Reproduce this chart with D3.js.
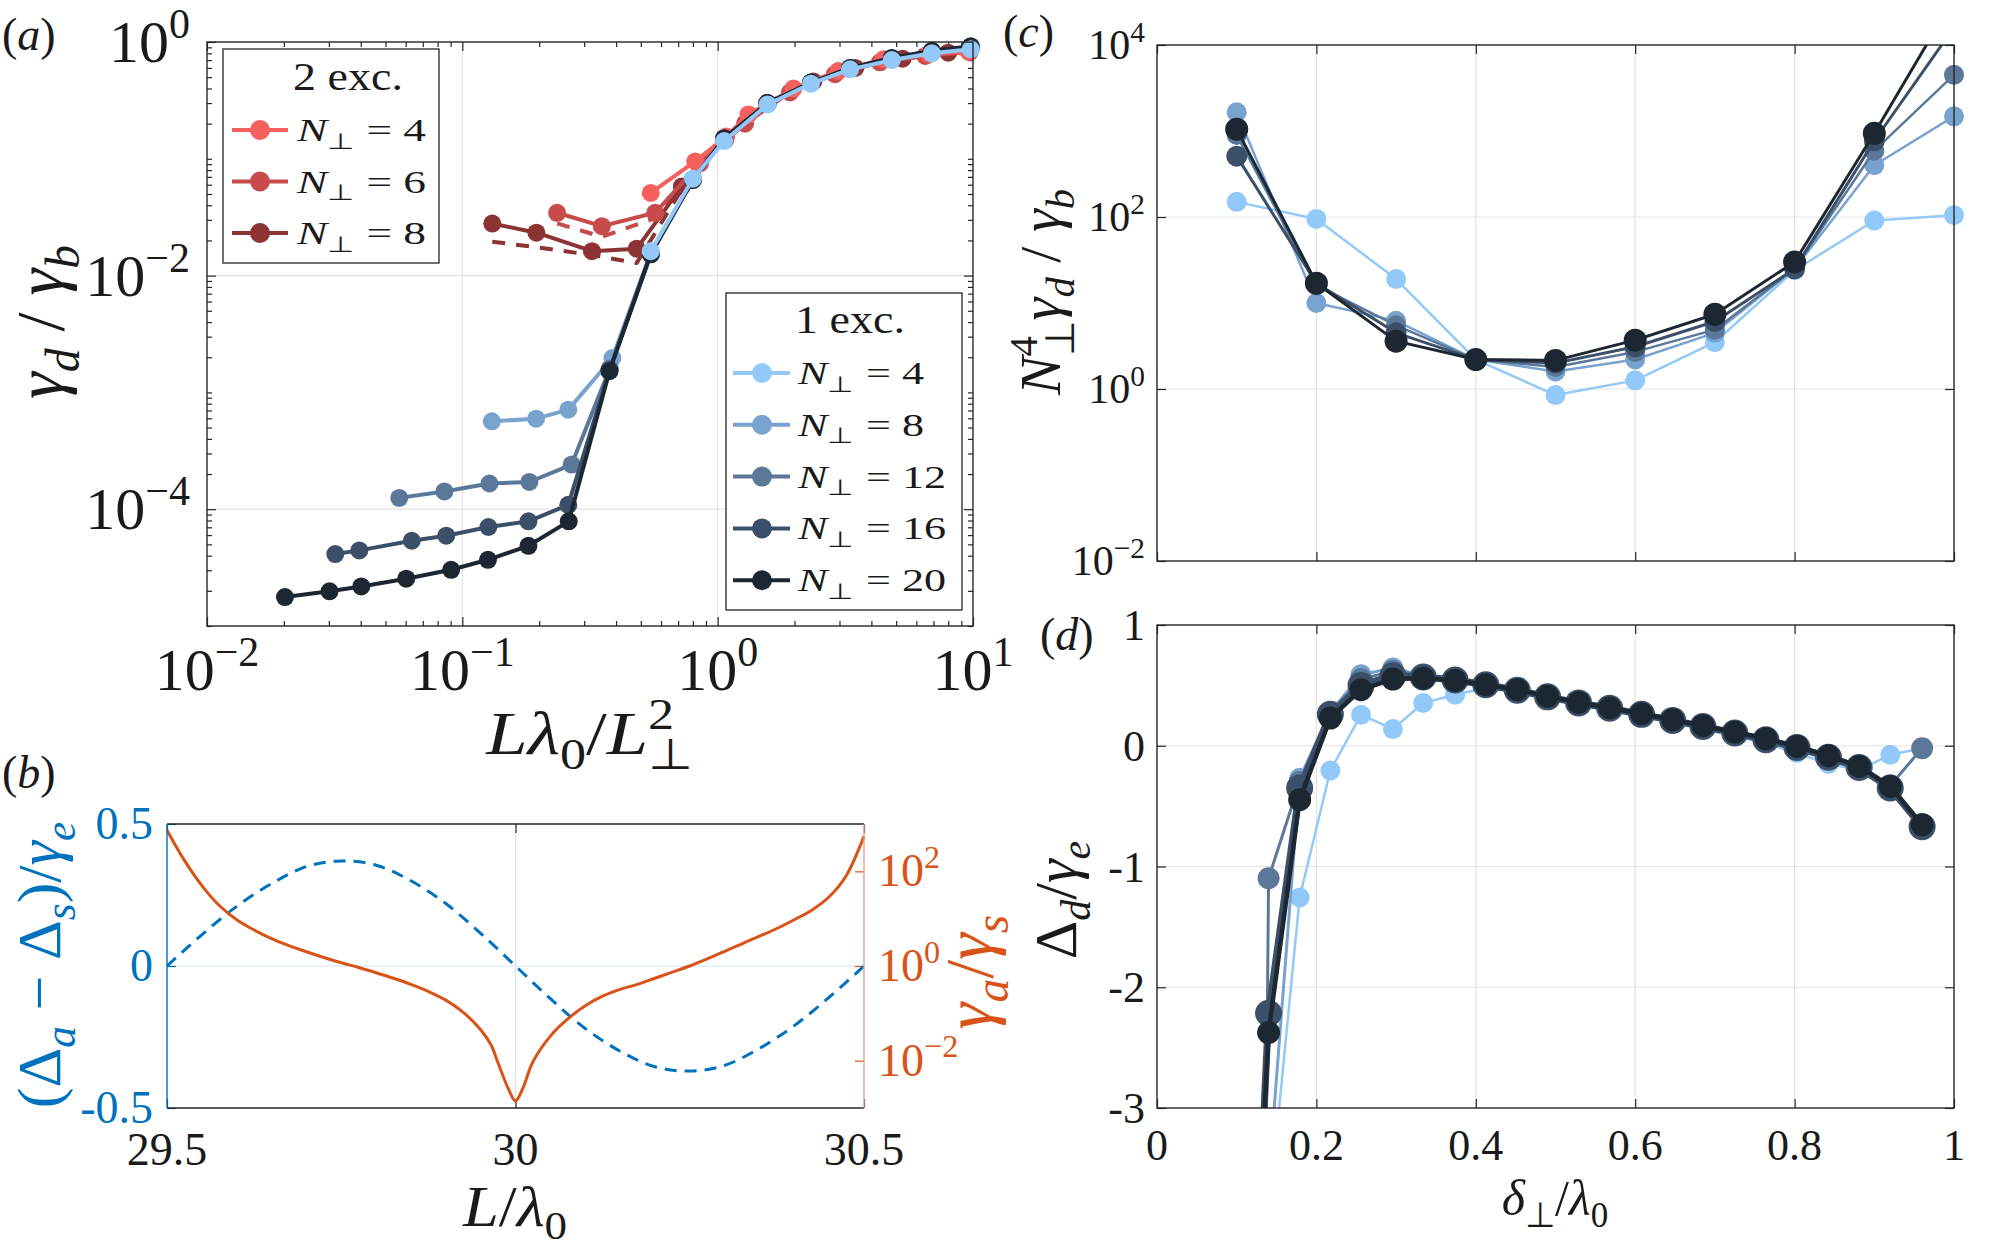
<!DOCTYPE html>
<html>
<head>
<meta charset="utf-8">
<script src="https://cdn.jsdelivr.net/npm/d3@7"></script>
<style>
  body { margin: 0; background: #fff; }
</style>
</head>
<body>
<script>
// ---------- data ----------

// (a) gamma_d / gamma_b vs L lambda0 / Lperp^2, one excitation
const a1HiX  = [0.547, 0.80, 1.06, 1.57, 2.32, 3.30, 4.81, 6.9, 9.8];
const a1N4x  = [];
const a1N4y  = [0.0162, 0.0675, 0.142, 0.292, 0.44, 0.583, 0.70, 0.80, 0.865];
const a1N8x  = [0.1305, 0.1945, 0.26, 0.387];
const a1N8y  = [5.65e-4, 5.96e-4, 7.12e-4, 1.97e-3, 0.0158, 0.067, 0.145, 0.295, 0.445, 0.59, 0.71, 0.82, 0.88];
const a1N12x = [0.0566, 0.0851, 0.1277, 0.183, 0.268, 0.378];
const a1N12y = [1.25e-4, 1.42e-4, 1.66e-4, 1.71e-4, 2.41e-4, 1.6e-3, 0.0155, 0.066, 0.147, 0.297, 0.447, 0.595, 0.72, 0.83, 0.89];
const a1N16x = [0.0318, 0.0395, 0.0634, 0.0865, 0.1265, 0.1815, 0.26, 0.377];
const a1N16y = [4.13e-5, 4.44e-5, 5.37e-5, 5.93e-5, 7.04e-5, 7.87e-5, 1.09e-4, 1.55e-3, 0.0153, 0.066, 0.149, 0.299, 0.449, 0.598, 0.725, 0.835, 0.90];
const a1N20x = [0.0202, 0.0302, 0.0402, 0.0603, 0.0904, 0.126, 0.1815, 0.261, 0.377];
const a1N20y = [1.77e-5, 1.98e-5, 2.18e-5, 2.54e-5, 3.03e-5, 3.69e-5, 4.86e-5, 7.87e-5, 1.52e-3, 0.0152, 0.066, 0.15, 0.30, 0.45, 0.60, 0.73, 0.84, 0.92];

// (a) two excitations (solid with markers, dashed without)
const a2N4x  = [0.547, 0.817, 1.08, 1.32, 1.98, 2.97, 4.46, 6.7, 9.6];
const a2N4y  = [0.051, 0.095, 0.155, 0.24, 0.40, 0.565, 0.71, 0.79, 0.83];
const a2N6x  = [0.235, 0.352, 0.569, 0.854, 1.28, 1.92, 2.88, 4.32, 6.5, 9.7];
const a2N6y  = [0.0345, 0.0265, 0.0345, 0.092, 0.20, 0.37, 0.53, 0.67, 0.76, 0.82];
const a2N8x  = [0.131, 0.195, 0.322, 0.482, 0.724, 1.07, 1.56, 2.37, 3.46, 5.3, 8.0];
const a2N8y  = [0.0279, 0.0233, 0.0162, 0.017, 0.058, 0.145, 0.30, 0.46, 0.60, 0.72, 0.81];
const a2N6dx = [0.235, 0.352, 0.569, 0.854];
const a2N6dy = [0.028, 0.0215, 0.031, 0.09];
const a2N8dx = [0.131, 0.195, 0.322, 0.482, 0.724];
const a2N8dy = [0.0195, 0.0175, 0.015, 0.0128, 0.055];

// (b) detuning difference (dashed) and decay ratio (solid) vs L/lambda0
const bL     = [29.5, 29.55, 29.6, 29.65, 29.7, 29.75, 29.8, 29.85, 29.9, 29.95, 30.0,
                30.05, 30.1, 30.15, 30.2, 30.25, 30.3, 30.35, 30.4, 30.45, 30.5];
const bDelta = [0, 0.11, 0.21, 0.29, 0.35, 0.37, 0.355, 0.30, 0.22, 0.115, 0,
                -0.115, -0.22, -0.30, -0.355, -0.37, -0.35, -0.29, -0.21, -0.11, 0];
const bGL    = [29.5, 29.525, 29.55, 29.575, 29.6, 29.625, 29.65, 29.675, 29.7, 29.725,
                29.75, 29.775, 29.8, 29.825, 29.85, 29.875, 29.9, 29.925, 29.95, 29.965,
                29.975, 29.99, 30.0, 30.01, 30.025, 30.05, 30.075, 30.1, 30.125, 30.15,
                30.175, 30.2, 30.225, 30.25, 30.275, 30.3, 30.325, 30.35, 30.375, 30.4,
                30.425, 30.45, 30.475, 30.5];
const bRatio = [740, 170, 50, 19, 9.5, 5.75, 3.8, 2.7, 2.0, 1.51,
                1.17, 0.93, 0.72, 0.55, 0.41, 0.29, 0.19, 0.105, 0.045, 0.0214,
                0.0089, 0.0025, 0.0014, 0.0025, 0.0095, 0.033, 0.076, 0.145, 0.23, 0.32,
                0.41, 0.55, 0.74, 1.0, 1.41, 2.04, 2.95, 4.27, 6.2, 9.5,
                15.1, 29, 83, 550];

// (c) Nperp^4 gamma_d / gamma_b vs delta_perp / lambda0
const cX   = [0.1, 0.2, 0.3, 0.4, 0.5, 0.6, 0.7, 0.8, 0.9, 1.0];
const cN4  = [150, 95, 19, 2.2, 0.85, 1.26, 3.5, 24, 91, 105];
const cN8  = [1650, 10, 6.2, 2.2, 1.6, 2.2, 4.5, 25, 400, 1480];
const cN12 = [900, 16, 5.5, 2.2, 1.8, 2.7, 4.9, 25, 590, 4500];
const cN16 = [510, 17, 4.5, 2.2, 2.0, 3.1, 6.1, 25, 770, 16000];
const cN20 = [1050, 17, 3.6, 2.2, 2.15, 3.7, 7.4, 30, 940, 35000];

// (d) Delta_d / gamma_e vs delta_perp / lambda0
const dX   = [0.1, 0.14, 0.179, 0.2175, 0.256, 0.296, 0.334, 0.374, 0.4125, 0.452, 0.49, 0.529,
              0.568, 0.608, 0.647, 0.685, 0.725, 0.764, 0.803, 0.8425, 0.881, 0.92, 0.96];
const dN4  = [-10, -3.9, -1.257, -0.205, 0.257, 0.138, 0.354, 0.423, 0.48, 0.44, 0.39, 0.34,
              0.29, 0.24, 0.19, 0.135, 0.08, 0.02, -0.06, -0.15, -0.2, -0.075, -0.02];
const dN8  = [-9, -3.6, -0.27, 0.28, 0.588, 0.644, 0.58, 0.54, 0.50, 0.455, 0.40, 0.35,
              0.305, 0.255, 0.205, 0.155, 0.10, 0.045, -0.02, -0.10, -0.185, -0.34, -0.66];
const dN12 = [-30, -1.097, -0.30, 0.27, 0.55, 0.62, 0.58, 0.545, 0.505, 0.46, 0.405, 0.355,
              0.31, 0.26, 0.21, 0.16, 0.105, 0.05, -0.015, -0.09, -0.175, -0.33, -0.02];
const dN16 = [-7.9, -2.215, -0.35, 0.26, 0.50, 0.58, 0.57, 0.545, 0.505, 0.46, 0.405, 0.355,
              0.31, 0.26, 0.21, 0.16, 0.105, 0.05, -0.015, -0.095, -0.18, -0.35, -0.67];
const dN20 = [-7.5, -2.375, -0.447, 0.229, 0.464, 0.552, 0.560, 0.541, 0.505, 0.464, 0.409, 0.359,
              0.313, 0.265, 0.215, 0.166, 0.113, 0.058, -0.005, -0.083, -0.171, -0.337, -0.655];

// legends and ticks
const leg1 = ["N_⊥ = 4", "N_⊥ = 8", "N_⊥ = 12", "N_⊥ = 16", "N_⊥ = 20"];
const leg2 = ["N_⊥ = 4", "N_⊥ = 6", "N_⊥ = 8"];
const aXTicks = [1e-2, 1e-1, 1, 10], aXLabels = ["10^{−2}", "10^{−1}", "10^{0}", "10^{1}"];
const aYTicks = [1e-4, 1e-2, 1],      aYLabels = ["10^{−4}", "10^{−2}", "10^{0}"];
const bXTicks = [29.5, 30, 30.5],     bXLabels = ["29.5", "30", "30.5"];
const bYTicks = [-0.5, 0, 0.5],       bYLabels = ["-0.5", "0", "0.5"];
const bRTicks = [1e-2, 1, 1e2],       bRLabels = ["10^{−2}", "10^{0}", "10^{2}"];
const cYTicks = [1e-2, 1, 1e2, 1e4],  cYLabels = ["10^{−2}", "10^{0}", "10^{2}", "10^{4}"];
const dXTicks = [0, 0.2, 0.4, 0.6, 0.8, 1], dXLabels = ["0", "0.2", "0.4", "0.6", "0.8", "1"];
const dYTicks = [-3, -2, -1, 0, 1],   dYLabels = ["-3", "-2", "-1", "0", "1"];

// ---------- style ----------
const FONT = "'Liberation Serif', 'Times New Roman', serif";
const blues = ["#93c9f9", "#79a3cf", "#5c7899", "#3b5068", "#1c2731"];
const reds  = ["#f6605e", "#c74b4b", "#8e3333"];
const cBlue = "#0072BD", cOrange = "#D95319", ink = "#1a1a1a", axisC = "#262626", gridC = "#e3e3e3";

const boxA = {l: 207, r: 973, t: 42, b: 626};
const boxB = {l: 167, r: 864, t: 824, b: 1108};
const boxC = {l: 1157, r: 1954, t: 45, b: 561};
const boxD = {l: 1157, r: 1954, t: 625, b: 1108};

const svg = d3.select("body").append("svg")
  .attr("width", 1991).attr("height", 1253)
  .style("background", "#fff");

// ---------- small math-text helper: x_{sub}, x^{sup}, latin/greek letters italic ----------
const ITAL = /[A-Za-zα-ω]/;
function runs(str, plain) {
  const out = [];
  let i = 0, grp = 0;
  const push = (s, mode, g) => {
    for (const ch of s) {
      const it = !plain && ITAL.test(ch);
      const last = out[out.length - 1];
      if (last && last.mode === mode && last.it === it && last.g === g) last.s += ch;
      else out.push({s: ch, mode, it, g});
    }
  };
  while (i < str.length) {
    const c = str[i];
    if (!plain && (c === "^" || c === "_")) {
      let s;
      if (str[i + 1] === "{") { const j = str.indexOf("}", i); s = str.slice(i + 2, j); i = j + 1; }
      else { s = str[i + 1]; i += 2; }
      push(s, c === "^" ? "sup" : "sub", ++grp);
    } else { push(c, "base", 0); i++; }
  }
  return out;
}

function mtext(g, str, x, y, o = {}) {
  const fs = o.size || 40;
  const t = g.append("text")
    .attr("transform", `translate(${x},${y}) rotate(${o.rotate || 0}) scale(${o.sx || 1},1)`)
    .attr("font-size", fs).attr("text-anchor", o.anchor || "start")
    .style("font-family", FONT).style("fill", o.color || ink).style("white-space", "pre");
  let cur = 0, prev = null;
  const widths = {}, under = {};
  runs(str, o.plain).forEach(r => {
    const off = r.mode === "sup" ? -0.4 * fs : r.mode === "sub" ? 0.24 * fs : 0;
    const sp = t.append("tspan").text(r.s)
      .attr("font-size", r.mode === "base" ? fs : 0.7 * fs)
      .attr("font-style", r.it ? "italic" : "normal");
    if (off !== cur) sp.attr("dy", off - cur);
    // stack a sup directly over a sub (N_⊥^4), then skip past the wider one
    if (r.mode !== "base" && prev && prev.mode !== "base" && prev.g !== r.g && widths[r.g] === undefined) {
      sp.attr("dx", -widths[prev.g]);
      under[r.g] = prev.g;
    }
    if (r.mode === "base" && prev && under[prev.g] !== undefined) {
      const extra = widths[under[prev.g]] - widths[prev.g];
      if (extra > 0) sp.attr("dx", extra);
    }
    cur = off;
    if (r.mode !== "base") widths[r.g] = (widths[r.g] || 0) + sp.node().getComputedTextLength();
    prev = r;
  });
  return t;
}

// ---------- axes helpers ----------
function tickMarks(g, scale, vals, side, box, len, color) {
  const gen = {bottom: d3.axisBottom, top: d3.axisTop, left: d3.axisLeft, right: d3.axisRight}[side];
  const pos = {bottom: [0, box.b], top: [0, box.t], left: [box.l, 0], right: [box.r, 0]}[side];
  g.append("g").attr("transform", `translate(${pos})`).attr("color", color || axisC)
    .call(gen(scale).tickValues(vals).tickSize(-len).tickFormat(""))
    .call(a => a.select(".domain").remove())
    .selectAll("line").attr("stroke-width", 1.2);
}

function gridLines(g, box, x, y, xs, ys, color) {
  g.selectAll(null).data(xs).enter().append("line")
    .attr("x1", d => x(d)).attr("x2", d => x(d)).attr("y1", box.t).attr("y2", box.b)
    .attr("stroke", color || gridC).attr("stroke-width", 1.2);
  g.selectAll(null).data(ys).enter().append("line")
    .attr("y1", d => y(d)).attr("y2", d => y(d)).attr("x1", box.l).attr("x2", box.r)
    .attr("stroke", color || gridC).attr("stroke-width", 1.2);
}

function frame(g, box) {
  g.append("rect").attr("x", box.l).attr("y", box.t)
    .attr("width", box.r - box.l).attr("height", box.b - box.t)
    .attr("fill", "none").attr("stroke", axisC).attr("stroke-width", 1.4);
}

function series(g, xs, ys, x, y, color, r, w, dash, clip) {
  const pts = xs.map((v, i) => [v, ys[i]]);
  g.append("path").datum(pts)
    .attr("fill", "none").attr("stroke", color).attr("stroke-width", w)
    .attr("stroke-dasharray", dash || null)
    .attr("stroke-linejoin", "round")
    .attr("clip-path", clip ? `url(#${clip})` : null)
    .attr("d", d3.line().x(d => x(d[0])).y(d => y(d[1])));
  if (!r) return;
  const [y0, y1] = y.domain();
  g.selectAll(null).data(pts.filter(d => d[1] >= Math.min(y0, y1) && d[1] <= Math.max(y0, y1)))
    .enter().append("circle")
    .attr("cx", d => x(d[0])).attr("cy", d => y(d[1])).attr("r", r).attr("fill", color);
}

function clipRect(id, box) {
  svg.append("clipPath").attr("id", id).append("rect")
    .attr("x", box.l).attr("y", box.t).attr("width", box.r - box.l).attr("height", box.b - box.t);
}

// ---------- panel (a) ----------
const gA = svg.append("g");
const xA = d3.scaleLog().domain([1e-2, 1e1]).range([boxA.l, boxA.r]);
const yA = d3.scaleLog().domain([1e-5, 1]).range([boxA.b, boxA.t]);
gridLines(gA, boxA, xA, yA, [1e-1, 1], [1e-4, 1e-2]);
const xMinor = xA.ticks().filter(v => !aXTicks.some(t => Math.abs(t - v) / t < 1e-6));
const yMinor = yA.ticks().filter(v => !aYTicks.some(t => Math.abs(t - v) / t < 1e-6));
tickMarks(gA, xA, aXTicks, "bottom", boxA, 9);
tickMarks(gA, xA, aXTicks, "top", boxA, 9);
tickMarks(gA, xA, xMinor, "bottom", boxA, 5);
tickMarks(gA, xA, xMinor, "top", boxA, 5);
tickMarks(gA, yA, aYTicks, "left", boxA, 9);
tickMarks(gA, yA, aYTicks, "right", boxA, 9);
tickMarks(gA, yA, yMinor, "left", boxA, 5);
tickMarks(gA, yA, yMinor, "right", boxA, 5);

const a2 = [[a2N8x, a2N8y, 2], [a2N6x, a2N6y, 1], [a2N4x, a2N4y, 0]];
series(gA, a2N8dx, a2N8dy, xA, yA, reds[2], 0, 4, "13,11");
series(gA, a2N6dx, a2N6dy, xA, yA, reds[1], 0, 4, "13,11");
a2.forEach(([xs, ys, k]) => series(gA, xs, ys, xA, yA, reds[k], 9, 4));

const a1 = [[a1N8x, a1N8y, 1], [a1N12x, a1N12y, 2], [a1N16x, a1N16y, 3], [a1N20x, a1N20y, 4], [a1N4x, a1N4y, 0]];
a1.forEach(([xs, ys, k]) => series(gA, xs.concat(a1HiX), ys, xA, yA, blues[k], 9, 4));
frame(gA, boxA);

aXTicks.forEach((v, i) => mtext(gA, aXLabels[i], xA(v), 690, {size: 60, anchor: "middle"}));
aYTicks.forEach((v, i) => mtext(gA, aYLabels[i], 190, yA(v) + 20, {size: 60, anchor: "end"}));
mtext(gA, "Lλ_0/L_⊥^2", 590, 754, {size: 62, anchor: "middle", sx: 1.2});
mtext(gA, "γ_d / γ_b", 63, 322, {size: 68, anchor: "middle", rotate: -90});
mtext(gA, "(a)", 2, 50, {size: 46});

// legend: 2 exc.
gA.append("rect").attr("x", 223).attr("y", 49).attr("width", 216).attr("height", 214)
  .attr("fill", "#fff").attr("stroke", axisC).attr("stroke-width", 1.3);
mtext(gA, "2 exc.", 348, 90, {size: 40, anchor: "middle", plain: true, sx: 1.15});
leg2.forEach((s, i) => {
  const yy = 130 + i * 51.5;
  gA.append("line").attr("x1", 232).attr("x2", 288).attr("y1", yy).attr("y2", yy)
    .attr("stroke", reds[i]).attr("stroke-width", 4);
  gA.append("circle").attr("cx", 260).attr("cy", yy).attr("r", 10).attr("fill", reds[i]);
  mtext(gA, s, 297, yy + 11, {size: 32, sx: 1.42});
});

// legend: 1 exc.
gA.append("rect").attr("x", 726).attr("y", 293).attr("width", 236).attr("height", 317)
  .attr("fill", "#fff").attr("stroke", axisC).attr("stroke-width", 1.3);
mtext(gA, "1 exc.", 850, 333, {size: 40, anchor: "middle", plain: true, sx: 1.15});
leg1.forEach((s, i) => {
  const yy = 373 + i * 51.8;
  gA.append("line").attr("x1", 733).attr("x2", 790).attr("y1", yy).attr("y2", yy)
    .attr("stroke", blues[i]).attr("stroke-width", 4);
  gA.append("circle").attr("cx", 762).attr("cy", yy).attr("r", 10).attr("fill", blues[i]);
  mtext(gA, s, 798, yy + 11, {size: 32, sx: 1.38});
});

// ---------- panel (b) ----------
const gB = svg.append("g");
const xB = d3.scaleLinear().domain([29.5, 30.5]).range([boxB.l, boxB.r]);
const yBl = d3.scaleLinear().domain([-0.5, 0.5]).range([boxB.b, boxB.t]);
const yBr = d3.scaleLog().domain([1e-3, 1e3]).range([boxB.b, boxB.t]);
gridLines(gB, boxB, xB, yBl, [30], []);
gridLines(gB, boxB, xB, yBl, [], [0], "#d6e4f1");
tickMarks(gB, xB, bXTicks, "bottom", boxB, 9);
tickMarks(gB, xB, bXTicks, "top", boxB, 9);
tickMarks(gB, yBl, bYTicks, "left", boxB, 9, cBlue);
tickMarks(gB, yBr, bRTicks, "right", boxB, 9, cOrange);

gB.append("path").datum(bL.map((v, i) => [v, bDelta[i]]))
  .attr("fill", "none").attr("stroke", cBlue).attr("stroke-width", 3)
  .attr("stroke-dasharray", "12,8")
  .attr("d", d3.line().x(d => xB(d[0])).y(d => yBl(d[1])).curve(d3.curveCatmullRom));
gB.append("path").datum(bGL.map((v, i) => [v, bRatio[i]]))
  .attr("fill", "none").attr("stroke", cOrange).attr("stroke-width", 3)
  .attr("d", d3.line().x(d => xB(d[0])).y(d => yBr(d[1])).curve(d3.curveCatmullRom));

// spines: top/bottom dark, left blue, right orange
[[boxB.l, boxB.t, boxB.r, boxB.t, axisC], [boxB.l, boxB.b, boxB.r, boxB.b, axisC],
 [boxB.l, boxB.t, boxB.l, boxB.b, cBlue], [boxB.r, boxB.t, boxB.r, boxB.b, "#e9a283"]]
  .forEach(([x1, y1, x2, y2, c]) => gB.append("line").attr("x1", x1).attr("y1", y1)
    .attr("x2", x2).attr("y2", y2).attr("stroke", c).attr("stroke-width", 1.4));

bXTicks.forEach((v, i) => mtext(gB, bXLabels[i], xB(v), 1165, {size: 46, anchor: "middle"}));
bYTicks.forEach((v, i) => mtext(gB, bYLabels[i], 153, yBl(v) + 15, {size: 46, anchor: "end", color: cBlue}));
bRTicks.forEach((v, i) => mtext(gB, bRLabels[i], 878, yBr(v) + 15, {size: 46, color: cOrange}));
mtext(gB, "L/λ_0", 515, 1226, {size: 56, anchor: "middle", sx: 1.15});
mtext(gB, "(Δ_a − Δ_s)/γ_e", 60, 965, {size: 62, anchor: "middle", rotate: -90, color: cBlue});
mtext(gB, "γ_a/γ_s", 992, 972, {size: 68, anchor: "middle", rotate: -90, color: cOrange});
mtext(gB, "(b)", 2, 788, {size: 46});

// ---------- panel (c) ----------
const gC = svg.append("g");
const xC = d3.scaleLinear().domain([0, 1]).range([boxC.l, boxC.r]);
const yC = d3.scaleLog().domain([1e-2, 1e4]).range([boxC.b, boxC.t]);
clipRect("clipC", boxC);
gridLines(gC, boxC, xC, yC, [0.2, 0.4, 0.6, 0.8], [1, 1e2]);
tickMarks(gC, xC, dXTicks, "bottom", boxC, 9);
tickMarks(gC, xC, dXTicks, "top", boxC, 9);
tickMarks(gC, yC, cYTicks, "left", boxC, 9);
tickMarks(gC, yC, cYTicks, "right", boxC, 9);
[[cN4, 0, 10, 2.5], [cN8, 1, 10, 2.5], [cN12, 2, 10, 2.5], [cN16, 3, 10.5, 3], [cN20, 4, 11.5, 3]]
  .forEach(([ys, k, r, w]) => series(gC, cX, ys, xC, yC, blues[k], r, w, null, "clipC"));
frame(gC, boxC);
cYTicks.forEach((v, i) => mtext(gC, cYLabels[i], 1145, yC(v) + 14, {size: 42, anchor: "end"}));
mtext(gC, "N_⊥^4γ_d / γ_b", 1060, 292, {size: 58, anchor: "middle", rotate: -90});
mtext(gC, "(c)", 1003, 47, {size: 46});

// ---------- panel (d) ----------
const gD = svg.append("g");
const xD = d3.scaleLinear().domain([0, 1]).range([boxD.l, boxD.r]);
const yD = d3.scaleLinear().domain([-3, 1]).range([boxD.b, boxD.t]);
clipRect("clipD", boxD);
gridLines(gD, boxD, xD, yD, [0.2, 0.4, 0.6, 0.8], [-2, -1, 0]);
tickMarks(gD, xD, dXTicks, "bottom", boxD, 9);
tickMarks(gD, xD, dXTicks, "top", boxD, 9);
tickMarks(gD, yD, dYTicks, "left", boxD, 9);
tickMarks(gD, yD, dYTicks, "right", boxD, 9);
[[dN4, 0, 10, 2.5], [dN8, 1, 10.5, 3], [dN12, 2, 11, 3], [dN16, 3, 13.5, 7], [dN20, 4, 11.5, 4.5]]
  .forEach(([ys, k, r, w]) => series(gD, dX, ys, xD, yD, blues[k], r, w, null, "clipD"));
frame(gD, boxD);
dXTicks.forEach((v, i) => mtext(gD, dXLabels[i], xD(v), 1160, {size: 44, anchor: "middle"}));
dYTicks.forEach((v, i) => mtext(gD, dYLabels[i], 1145, yD(v) + 15, {size: 44, anchor: "end"}));
mtext(gD, "δ_⊥/λ_0", 1555, 1215, {size: 50, anchor: "middle"});
mtext(gD, "Δ_d/γ_e", 1076, 900, {size: 60, anchor: "middle", rotate: -90});
mtext(gD, "(d)", 1040, 650, {size: 46});
</script>
</body>
</html>
